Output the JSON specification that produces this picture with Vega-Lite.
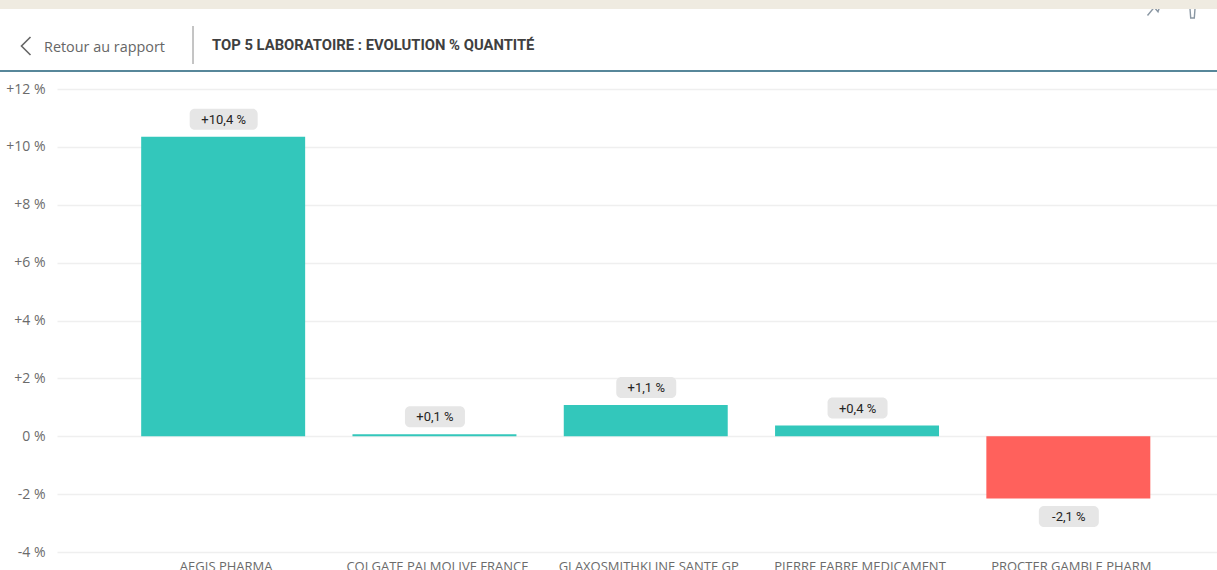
{"$schema":"https://vega.github.io/schema/vega-lite/v6.json","width":1160,"height":463,"autosize":{"type":"none"},"padding":{"left":57,"top":89,"right":0,"bottom":18},"background":"white","config":{"view":{"stroke":null}},"data":{"values":[{"laboratoire":"AEGIS PHARMA","evolution":10.35,"label":"+10,4 %"},{"laboratoire":"COLGATE PALMOLIVE FRANCE","evolution":0.07,"label":"+0,1 %"},{"laboratoire":"GLAXOSMITHKLINE SANTE GP","evolution":1.08,"label":"+1,1 %"},{"laboratoire":"PIERRE FABRE MEDICAMENT","evolution":0.37,"label":"+0,4 %"},{"laboratoire":"PROCTER GAMBLE PHARM","evolution":-2.15,"label":"-2,1 %"}]},"encoding":{"x":{"field":"laboratoire","type":"nominal","sort":null,"title":null,"scale":{"paddingInner":0.224,"paddingOuter":0.357,"align":0.558},"axis":{"labelAngle":0,"ticks":false,"domain":false,"labelColor":"#6b6b6b","labelFont":"Open Sans","labelFontSize":13,"labelPadding":8,"labelOffset":3,"labelLimit":210,"labelOverlap":false}},"y":{"field":"evolution","type":"quantitative","title":null,"scale":{"domain":[-4,12],"nice":false,"zero":false},"axis":{"values":[-4,-2,0,2,4,6,8,10,12],"labelExpr":"datum.value>0?'+'+datum.value+' %':datum.value+' %'","ticks":false,"domain":false,"grid":true,"gridColor":"#efefef","gridWidth":1.5,"labelColor":"#6b6b6b","labelFont":"Open Sans","labelFontSize":14,"labelPadding":12}}},"layer":[{"mark":{"type":"bar","clip":false},"encoding":{"color":{"condition":{"test":"datum.evolution<0","value":"#FF615C"},"value":"#33C7BB"}}},{"mark":{"type":"rect","width":{"expr":"length(datum.label)>6?68:60"},"height":21,"cornerRadius":5,"fill":"#E6E6E6","xOffset":0.5,"yOffset":{"expr":"datum.evolution<0?18:-17.5"}}},{"mark":{"type":"text","font":"Roboto","fontSize":13,"color":"#252423","baseline":"middle","xOffset":0.5,"yOffset":{"expr":"datum.evolution<0?18.5:-17"}},"encoding":{"text":{"field":"label"}}},{"data":{"values":[{}]},"mark":{"type":"rule","color":"#1F5F78","strokeWidth":1.5},"encoding":{"x":{"value":-57},"x2":{"value":1160},"y":{"value":-18},"y2":{"value":-18}}},{"data":{"values":[{}]},"mark":{"type":"rule","color":"#8a8a8a","strokeWidth":1},"encoding":{"x":{"value":136},"x2":{"value":136},"y":{"value":-63},"y2":{"value":-25}}},{"data":{"values":[{}]},"mark":{"type":"point","shape":"M0.5,-1L-0.5,0L0.5,1","filled":false,"size":324,"stroke":"#666666","strokeWidth":1.6,"opacity":1},"encoding":{"x":{"value":-31},"y":{"value":-43}}},{"data":{"values":[{"t":"Retour au rapport"}]},"mark":{"type":"text","font":"Open Sans","fontSize":14.4,"color":"#666666","align":"left","baseline":"middle"},"encoding":{"text":{"field":"t"},"x":{"value":-13},"y":{"value":-41.5}}},{"data":{"values":[{"t":"TOP 5 LABORATOIRE : EVOLUTION % QUANTITÉ"}]},"mark":{"type":"text","font":"Roboto","fontSize":14.8,"fontWeight":"bold","color":"#3f3f3f","align":"left","baseline":"middle"},"encoding":{"text":{"field":"t"},"x":{"value":155},"y":{"value":-43}}},{"data":{"values":[{}]},"mark":{"type":"point","shape":"M-1,1L-0.1,-0.1L0.4,0.5L0.9,-1M-0.8,-1L-0.1,-0.1","filled":false,"size":225,"stroke":"#8a97a3","strokeWidth":1.4,"opacity":1},"encoding":{"x":{"value":1098},"y":{"value":-81}}},{"data":{"values":[{}]},"mark":{"type":"point","shape":"M-0.45,-1L-0.3,1L0.3,1L0.45,-1","filled":false,"size":144,"stroke":"#8a97a3","strokeWidth":1.4,"opacity":1},"encoding":{"x":{"value":1135.5},"y":{"value":-77}}},{"data":{"values":[{}]},"mark":{"type":"rect","fill":"#EFEBE1"},"encoding":{"x":{"value":-57},"x2":{"value":1160},"y":{"value":-89},"y2":{"value":-80}}}]}
